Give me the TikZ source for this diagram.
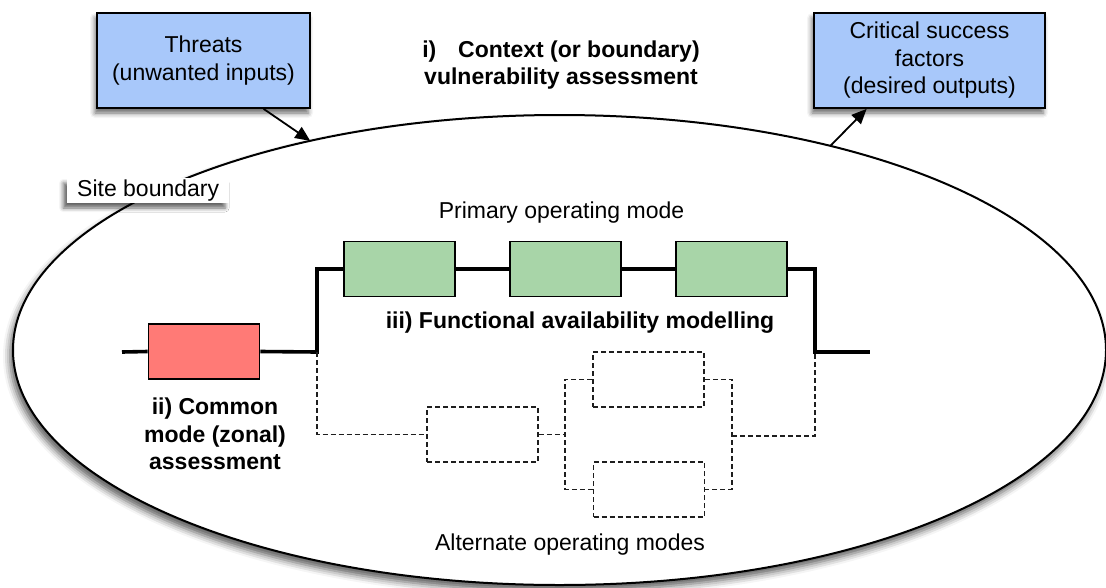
\documentclass[tikz,border=0pt]{standalone}
\usepackage{fontspec}
\setmainfont{Liberation Sans}
\usetikzlibrary{shapes.geometric,shadows.blur,arrows.meta,calc}
\definecolor{boxblue}{RGB}{168,200,250}
\definecolor{boxgreen}{RGB}{168,213,168}
\definecolor{boxred}{RGB}{255,122,118}
\definecolor{dashgray}{RGB}{30,30,30}
\tikzset{
  shade/.style={blur shadow={shadow xshift=-2pt,shadow yshift=-5pt,shadow blur radius=5pt,shadow opacity=60}},
  bluebox/.style={draw=black,line width=1.8pt,fill=boxblue,shade,align=center,inner sep=0pt,
    minimum height=95pt,font=\fontsize{23}{27.5}\selectfont},
  blockbox/.style={draw=black,line width=1.8pt,minimum width=111pt,minimum height=55pt,inner sep=0pt},
  altbox/.style={draw=dashgray,line width=1.6pt,dash pattern=on 5pt off 3pt,minimum width=111pt,minimum height=55pt,inner sep=0pt},
  wire/.style={line width=3.6pt,line join=miter},
  altwire/.style={draw=dashgray,line width=1.6pt,dash pattern=on 5pt off 3pt},
  plain/.style={font=\fontsize{23}{27.5}\selectfont,inner sep=0pt},
  heading/.style={font=\fontsize{23}{27.5}\selectfont\bfseries,inner sep=0pt,align=center},
  tip/.style={-{Triangle[length=15pt,width=13pt]},line width=1.8pt},
}
\begin{document}
\begin{tikzpicture}[x=1pt,y=-1pt]
\useasboundingbox (0,0) rectangle (1106,587);
% site boundary
\node[ellipse,draw=black,line width=2pt,fill=white,inner sep=0pt,outer sep=0pt,
  minimum width=1093pt,minimum height=470pt,
  blur shadow={shadow xshift=-3pt,shadow yshift=-6pt,shadow blur radius=7pt,shadow opacity=65}]
  (boundary) at (559.5,350) {};
\node[fill=white,anchor=west,minimum height=25pt,inner xsep=10pt,inner ysep=0pt,
  blur shadow={shadow xshift=-4pt,shadow yshift=-5pt,shadow blur radius=4pt,shadow opacity=60},
  font=\fontsize{23}{27.5}\selectfont] (sitelabel) at (67,190.5) {Site boundary};
% top boxes
\node[bluebox,minimum width=213pt] (threats) at (203.5,60.5) {Threats\\(unwanted inputs)};
\node[bluebox,minimum width=231pt] (csf) at (929.5,60.5) {Critical success\\factors\\(desired outputs)};
\node[heading] (context) at (561,65) {i)\hspace{0.95em}Context (or boundary)\\vulnerability assessment};
\draw[tip] ($(threats.south west)!0.78!(threats.south east)$) -- (boundary.140.9);
\draw[tip] (boundary.37.8) -- ($(csf.south west)!0.23!(csf.south east)$);
% primary mode
\node[plain] (primary) at (561.5,213) {Primary operating mode};
\node[blockbox,fill=boxred] (red) at (204,351.5) {};
\node[blockbox,fill=boxgreen] (g1) at (399.5,269) {};
\node[blockbox,fill=boxgreen] (g2) at (565.5,269) {};
\node[blockbox,fill=boxgreen] (g3) at (731.5,269) {};
\coordinate (wl) at (122,352);
\coordinate (j1) at (317,352);
\coordinate (j2) at (815,352);
\coordinate (wr) at (870,352);
\draw[wire] (wl) -- (red.west);
\draw[wire] (red.east) -- (j1) -- (j1 |- g1.west) -- (g1.west);
\draw[wire] (g1.east) -- (g2.west);
\draw[wire] (g2.east) -- (g3.west);
\draw[wire] (g3.east) -- (j2 |- g3.east) -- (j2) -- (wr);
\node[heading] (func) at (580,323) {iii) Functional availability modelling};
\node[heading] (common) at (215,434) {ii) Common\\mode (zonal)\\assessment};
% alternate modes
\node[altbox] (d1) at (482.5,434.5) {};
\node[altbox] (d2) at (648.5,379.5) {};
\node[altbox] (d3) at (649,489.5) {};
\coordinate (sa) at (565,379.5);
\coordinate (sb) at (565,489.5);
\coordinate (ta) at (732,379.5);
\coordinate (tb) at (732,489.5);
\coordinate (tm) at (732,436);
\draw[altwire] (j1) -- (j1 |- d1.west) -- (d1.west);
\draw[altwire] (d1.east) -- (sa |- d1.east);
\draw[altwire] (d2.west) -- (sa) -- (sb) -- (d3.west);
\draw[altwire] (d2.east) -- (ta) -- (tb) -- (d3.east);
\draw[altwire] (tm) -- (j2 |- tm) -- (j2);
\node[plain] (alternate) at (570,545) {Alternate operating modes};
\end{tikzpicture}
\end{document}
